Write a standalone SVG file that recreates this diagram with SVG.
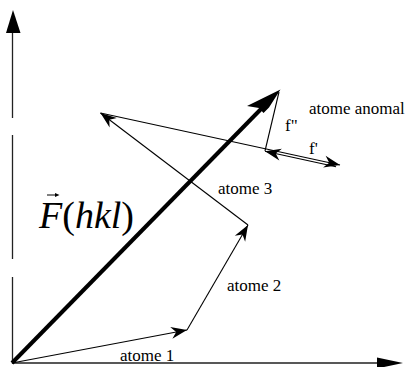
<svg xmlns="http://www.w3.org/2000/svg" width="413" height="367" viewBox="0 0 413 367">
<style>
.ax{stroke:#222;stroke-width:1.3;fill:none}
.v{stroke:#000;stroke-width:1.1;fill:none}
.lbl{font-family:"Liberation Serif","Times New Roman",serif;font-size:17px;fill:#000}
</style>
<defs>
<marker id="h" markerUnits="userSpaceOnUse" viewBox="-20 -10 22 20" markerWidth="22" markerHeight="20" refX="0" refY="0" orient="auto">
<path d="M0,0 L-16,-6 L-11,0 L-16,6 Z" fill="#000"/>
</marker>
</defs>
<g id="axes">
<path class="ax" d="M12.5,33 V118 M12.5,135 V259 M12.5,277 V363 H380"/>
<polygon points="13,10 6,33 20.5,33" fill="#000"/>
<polygon points="403,363 377,357.5 377,368.5" fill="#000"/>
</g>
<g id="connectors">
<line id="atome1" class="v" x1="12" y1="363" x2="187" y2="330" marker-end="url(#h)"/>
<line id="atome2" class="v" x1="187" y1="330" x2="248" y2="225" marker-end="url(#h)"/>
<line id="atome3" class="v" x1="248" y1="225" x2="100.5" y2="113" marker-end="url(#h)"/>
<line id="f0" class="v" x1="100.5" y1="113" x2="340" y2="165" marker-end="url(#h)"/>
<line id="fprime" class="v" x1="336" y1="166.8" x2="265" y2="151.2" marker-end="url(#h)"/>
<line id="fsecond" class="v" x1="265" y1="151" x2="279" y2="92"/>
<line id="F" stroke="#000" stroke-width="4" x1="12" y1="363" x2="262" y2="108"/>
<path id="Fhead" d="M280.5,89.5 L247,106 L259,108 L263.5,113 L269,107.5 Z" fill="#000"/>
</g>
<g id="labels">
<text class="lbl" x="120" y="361">atome 1</text>
<text class="lbl" x="227" y="291">atome 2</text>
<text class="lbl" x="218" y="194">atome 3</text>
<text class="lbl" x="309" y="114">atome anomal</text>
<text class="lbl" x="285" y="131">f"</text>
<text class="lbl" x="309" y="154">f'</text>
<g id="Flabel">
<text x="39" y="228" font-family="'Liberation Serif', 'Times New Roman', serif" font-size="38"><tspan font-style="italic">F</tspan>(<tspan font-style="italic">hkl</tspan>)</text>
<path d="M47,195 H56" stroke="#000" stroke-width="1"/>
<polygon points="59.5,195 55,193 55,197" fill="#000"/>
</g>
</g>
</svg>
